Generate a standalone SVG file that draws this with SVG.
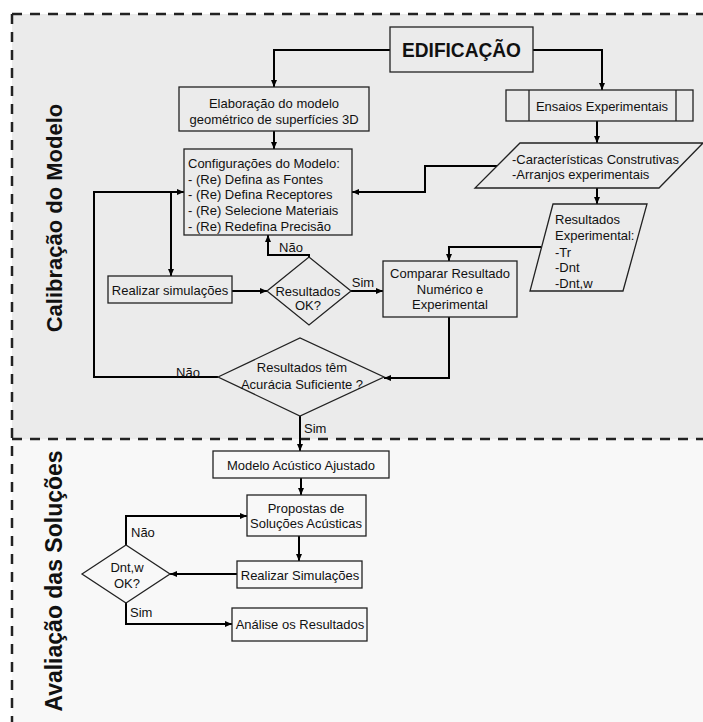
<svg xmlns="http://www.w3.org/2000/svg" width="703" height="722" viewBox="0 0 703 722">
<defs>
<style>
.bg1{fill:#ebebeb}
.bg2{fill:#f8f8f8}
.dash{fill:none;stroke:#222;stroke-width:2.5;stroke-dasharray:10 8}
.box{fill:none;stroke:#222;stroke-width:1.3}
.t{font-family:"Liberation Sans",Arial,sans-serif;font-size:13px;fill:#111}
.c{text-anchor:middle}
.side{font-family:"Liberation Sans",Arial,sans-serif;font-weight:bold;fill:#111;text-anchor:middle}
.conn{fill:none;stroke:#000;stroke-width:2}
</style>
<marker id="ah" markerWidth="7" markerHeight="6" refX="7" refY="3" orient="auto" markerUnits="userSpaceOnUse">
<path d="M0,0 L7,3 L0,6 z" fill="#000"/>
</marker>
</defs>
<rect x="0" y="0" width="703" height="722" fill="#ffffff"/>
<g id="regions">
<rect class="bg1" x="12" y="14" width="691" height="425"/>
<rect class="bg2" x="12" y="439" width="691" height="283"/>
<path class="dash" d="M12,14 H703"/>
<path class="dash" d="M12,14 V722"/>
<path class="dash" d="M12,439 H703"/>
<text class="side" font-size="22" transform="translate(62,218) rotate(-90)">Calibração do Modelo</text>
<text class="side" font-size="23" transform="translate(62,581) rotate(-90)">Avaliação das Soluções</text>
</g>
<g id="connectors">
<path class="conn" marker-end="url(#ah)" d="M390,50 H274 V87"/>
<path class="conn" marker-end="url(#ah)" d="M533,50 H602 V90"/>
<path class="conn" marker-end="url(#ah)" d="M274,131 V149"/>
<path class="conn" marker-end="url(#ah)" d="M597,121 V143"/>
<path class="conn" marker-end="url(#ah)" d="M497,166 H425 V192 H352"/>
<path class="conn" marker-end="url(#ah)" d="M597,188 V204"/>
<path class="conn" marker-end="url(#ah)" d="M541,247 H449 V261"/>
<path class="conn" marker-end="url(#ah)" d="M449,317 V378 H384"/>
<path class="conn" marker-end="url(#ah)" d="M218,377 H94 V192 H184"/>
<path class="conn" marker-end="url(#ah)" d="M171,192 V276"/>
<path class="conn" marker-end="url(#ah)" d="M232,291 H267"/>
<path class="conn" marker-end="url(#ah)" d="M351,291 H383"/>
<path class="conn" marker-end="url(#ah)" d="M309,257 V255 H268 V235"/>
<path class="conn" marker-end="url(#ah)" d="M300,416 V451"/>
<path class="conn" marker-end="url(#ah)" d="M301,478 V495"/>
<path class="conn" marker-end="url(#ah)" d="M299,536 V561"/>
<path class="conn" marker-end="url(#ah)" d="M237,574 H170"/>
<path class="conn" marker-end="url(#ah)" d="M126,545 V516 H247"/>
<path class="conn" marker-end="url(#ah)" d="M126,603 V624 H232"/>
<text class="t c" x="188" y="377">Não</text>
<text class="t c" x="291" y="252">Não</text>
<text class="t c" x="363" y="287">Sim</text>
<text class="t" x="304" y="433">Sim</text>
<text class="t" x="131" y="537">Não</text>
<text class="t" x="130" y="617">Sim</text>
</g>
<g id="edificacao">
<rect class="box" x="390" y="27" width="143" height="45"/>
<text x="461.5" y="57" font-family="Liberation Sans, Arial, sans-serif" font-weight="bold" font-size="20" text-anchor="middle" textLength="119" lengthAdjust="spacingAndGlyphs" fill="#111">EDIFICAÇÃO</text>
</g>
<g id="elaboracao">
<rect class="box" x="179" y="87" width="190" height="44"/>
<text class="t c" x="274" y="107.5">Elaboração do modelo</text>
<text class="t c" x="274" y="123.5">geométrico de superfícies  3D</text>
</g>
<g id="configuracoes">
<rect class="box" x="184" y="149" width="168" height="86"/>
<text class="t" x="188" y="168">Configurações do Modelo:</text>
<text class="t" x="188" y="184">- (Re) Defina as Fontes</text>
<text class="t" x="188" y="199">- (Re) Defina Receptores</text>
<text class="t" x="188" y="215">- (Re) Selecione Materiais</text>
<text class="t" x="188" y="231">- (Re) Redefina Precisão</text>
</g>
<g id="ensaios">
<rect class="box" x="506" y="90" width="187" height="31"/>
<path class="box" d="M529,90 V121 M676,90 V121"/>
<text class="t c" x="602" y="110.5">Ensaios Experimentais</text>
</g>
<g id="caracteristicas">
<polygon class="box" points="520,143 703,143 659,188 475,188"/>
<text class="t" x="512" y="163.5">-Características Construtivas</text>
<text class="t" x="512" y="178.5">-Arranjos experimentais</text>
</g>
<g id="resultados-exp">
<polygon class="box" points="553,204 647,204 623,291 530,291"/>
<text class="t" x="555" y="224">Resultados</text>
<text class="t" x="555" y="240">Experimental:</text>
<text class="t" x="555" y="257">-Tr</text>
<text class="t" x="555" y="272">-Dnt</text>
<text class="t" x="555" y="288">-Dnt,w</text>
</g>
<g id="comparar">
<rect class="box" x="383" y="261" width="134" height="56"/>
<text class="t c" x="450" y="277.5">Comparar Resultado</text>
<text class="t c" x="450" y="293.5">Numérico e</text>
<text class="t c" x="450" y="308.5">Experimental</text>
</g>
<g id="realizar">
<rect class="box" x="108" y="276" width="124" height="27"/>
<text class="t c" x="170" y="294.5">Realizar simulações</text>
</g>
<g id="resultados-ok">
<polygon class="box" points="267,291 309,257 351,291 309,325"/>
<text class="t c" x="308" y="295.5">Resultados</text>
<text class="t c" x="308" y="309.5">OK?</text>
</g>
<g id="acuracia">
<polygon class="box" points="218,377 300,338 384,377 300,416"/>
<text class="t c" x="302" y="371.5">Resultados têm</text>
<text class="t c" x="302" y="388.5">Acurácia Suficiente ?</text>
</g>
<g id="modelo-ajustado">
<rect class="box" x="213" y="451" width="176" height="27"/>
<text class="t c" x="301" y="469.5">Modelo Acústico Ajustado</text>
</g>
<g id="propostas">
<rect class="box" x="247" y="495" width="119" height="41"/>
<text class="t c" x="306" y="512.5">Propostas de</text>
<text class="t c" x="306" y="527.5">Soluções Acústicas</text>
</g>
<g id="realizar-sim">
<rect class="box" x="237" y="561" width="125" height="27"/>
<text class="t c" x="300" y="579.5">Realizar Simulações</text>
</g>
<g id="dntw-ok">
<polygon class="box" points="82,574 126,545 170,574 126,603"/>
<text class="t c" x="127" y="571.5">Dnt,w</text>
<text class="t c" x="127" y="587.5">OK?</text>
</g>
<g id="analise">
<rect class="box" x="232" y="608" width="135" height="33"/>
<text class="t c" x="300" y="628.5">Análise os Resultados</text>
</g>
</svg>
